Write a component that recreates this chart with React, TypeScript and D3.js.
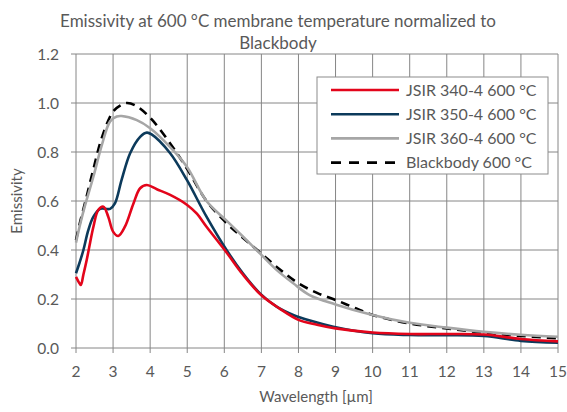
import * as React from "react";
import * as d3 from "d3";

// wavelength (µm) / emissivity pairs
const blackbody = [
  [2.0, 0.44], [2.12, 0.52], [2.24, 0.59], [2.47, 0.73], [2.7, 0.86], [3.0, 0.965],
  [3.2, 0.99], [3.37, 1.0], [3.6, 0.99], [4.0, 0.94], [4.54, 0.835], [5.0, 0.73],
  [5.52, 0.6], [6.06, 0.51], [6.5, 0.45], [7.0, 0.385], [7.5, 0.32], [8.0, 0.264],
  [8.5, 0.225], [9.0, 0.196], [9.5, 0.165], [10.0, 0.135], [11.0, 0.1], [12.0, 0.08],
  [13.0, 0.062], [14.0, 0.049], [15.0, 0.04],
];

const jsir340 = [
  [2.0, 0.29], [2.07, 0.27], [2.13, 0.257], [2.2, 0.3], [2.29, 0.36], [2.38, 0.43],
  [2.47, 0.495], [2.6, 0.563], [2.74, 0.577], [2.87, 0.536], [3.0, 0.475], [3.14, 0.457],
  [3.32, 0.495], [3.55, 0.59], [3.73, 0.652], [3.91, 0.665], [4.18, 0.648], [4.54, 0.625],
  [4.99, 0.585], [5.26, 0.548], [5.52, 0.495], [6.06, 0.39], [6.5, 0.3], [7.0, 0.215],
  [7.5, 0.16], [8.0, 0.115], [8.5, 0.095], [9.0, 0.08], [10.0, 0.063], [11.0, 0.057],
  [12.0, 0.057], [13.0, 0.055], [14.0, 0.037], [15.0, 0.027],
];

const jsir350 = [
  [2.0, 0.305], [2.1, 0.35], [2.2, 0.4], [2.33, 0.48], [2.47, 0.536], [2.65, 0.568],
  [2.92, 0.568], [3.05, 0.59], [3.23, 0.686], [3.46, 0.795], [3.73, 0.862], [3.91, 0.879],
  [4.04, 0.872], [4.54, 0.795], [4.99, 0.686], [5.52, 0.536], [6.06, 0.4], [6.5, 0.305],
  [6.96, 0.223], [7.41, 0.169], [7.86, 0.135], [8.31, 0.112], [8.94, 0.087], [10.0, 0.06],
  [11.0, 0.053], [12.0, 0.052], [13.0, 0.049], [14.0, 0.029], [15.0, 0.022],
];

const jsir360 = [
  [2.0, 0.43], [2.12, 0.51], [2.24, 0.58], [2.47, 0.7], [2.7, 0.83], [2.92, 0.925],
  [3.1, 0.945], [3.23, 0.947], [3.64, 0.93], [4.0, 0.897], [4.54, 0.82], [4.99, 0.74],
  [5.52, 0.6], [6.06, 0.52], [6.5, 0.455], [6.96, 0.386], [7.4, 0.32], [7.86, 0.264],
  [8.3, 0.216], [9.0, 0.178], [10.0, 0.135], [11.0, 0.103], [12.0, 0.083], [13.0, 0.066],
  [14.0, 0.054], [15.0, 0.046],
];

const seriesNames = ["JSIR 340-4 600 °C", "JSIR 350-4 600 °C", "JSIR 360-4 600 °C", "Blackbody 600 °C"];
const seriesData = [jsir340, jsir350, jsir360, blackbody];
const seriesColors = ["#e3051b", "#0c3a5b", "#a6a6a6", "#000000"];
const seriesDash = [null, null, null, "9,6"];

const xTicks = d3.range(2, 16);
const yTicks = [0, 0.2, 0.4, 0.6, 0.8, 1.0, 1.2];

const width = 567;
const height = 412;
const margin = { top: 54, right: 9, bottom: 64, left: 76 };
const font = "Lato, 'Open Sans', sans-serif";
const textColor = "#595959";

export default function App() {
  const x = d3.scaleLinear().domain([2, 15]).range([margin.left, width - margin.right]);
  const y = d3.scaleLinear().domain([0, 1.2]).range([height - margin.bottom, margin.top]);

  const line = d3
    .line<number[]>()
    .x((d) => x(d[0]))
    .y((d) => y(d[1]))
    .curve(d3.curveCatmullRom.alpha(0.5));

  // drawing order: blackbody underneath, like the reference
  const order = [3, 2, 1, 0];

  const legendX = 317;
  const legendY = 77;
  const legendW = 231;
  const legendH = 97;
  const rowGap = 24.2;

  return (
    <svg
      width={width}
      height={height}
      style={{ position: "absolute", left: 0, top: 0, background: "#fff" }}
      fontFamily={font}
    >
      <text x={278} y={27} textAnchor="middle" fontSize={17} fill={textColor}>
        Emissivity at 600 °C membrane temperature normalized to
      </text>
      <text x={278} y={49} textAnchor="middle" fontSize={17} fill={textColor}>
        Blackbody
      </text>

      {/* grid */}
      {xTicks.map((t) => (
        <line
          key={"gx" + t}
          x1={x(t)}
          x2={x(t)}
          y1={y(1.2)}
          y2={y(0) + 5}
          stroke="#868686"
          strokeWidth={1}
        />
      ))}
      {yTicks.map((t) => (
        <line
          key={"gy" + t}
          x1={x(2) - 5}
          x2={x(15)}
          y1={y(t)}
          y2={y(t)}
          stroke="#868686"
          strokeWidth={1}
        />
      ))}

      {/* tick labels */}
      {yTicks.map((t) => (
        <text
          key={"ly" + t}
          x={x(2) - 17}
          y={y(t) + 5.5}
          textAnchor="end"
          fontSize={15.5}
          fill={textColor}
        >
          {t.toFixed(1)}
        </text>
      ))}
      {xTicks.map((t) => (
        <text key={"lx" + t} x={x(t)} y={y(0) + 29} textAnchor="middle" fontSize={15.5} fill={textColor}>
          {t}
        </text>
      ))}

      <text x={316} y={402} textAnchor="middle" fontSize={15} fill={textColor}>
        Wavelength [µm]
      </text>
      <text
        transform={`translate(22 ${(y(0) + y(1.2)) / 2}) rotate(-90)`}
        textAnchor="middle"
        fontSize={15}
        fill={textColor}
      >
        Emissivity
      </text>

      {/* series */}
      {order.map((i) => (
        <path
          key={seriesNames[i]}
          d={line(seriesData[i] as number[][]) || ""}
          fill="none"
          stroke={seriesColors[i]}
          strokeWidth={2.6}
          strokeDasharray={seriesDash[i] || undefined}
          strokeLinejoin="round"
        />
      ))}

      {/* legend */}
      <rect
        x={legendX}
        y={legendY}
        width={legendW}
        height={legendH}
        fill="#fff"
        stroke="#8c8c8c"
        strokeWidth={1}
      />
      {seriesNames.map((name, i) => (
        <g key={"leg" + name} transform={`translate(${legendX} ${legendY + 13 + i * rowGap})`}>
          <line
            x1={14}
            x2={82}
            y1={0}
            y2={0}
            stroke={seriesColors[i]}
            strokeWidth={2.6}
            strokeDasharray={seriesDash[i] ? "10,8" : undefined}
          />
          <text x={89} y={5.5} fontSize={16} fill={textColor}>
            {name}
          </text>
        </g>
      ))}
    </svg>
  );
}
